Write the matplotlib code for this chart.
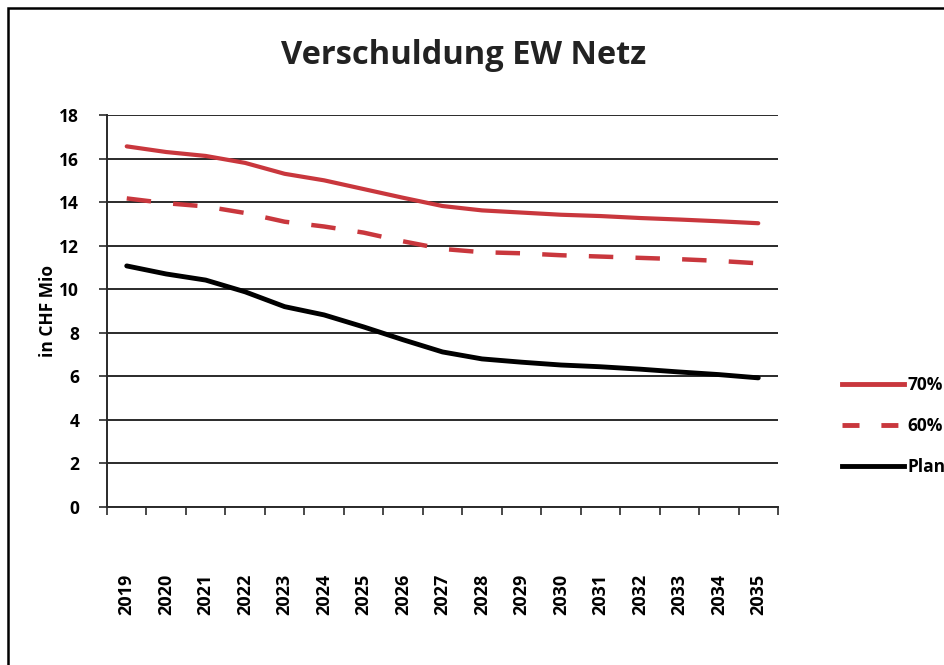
import numpy as np
import matplotlib
matplotlib.use('Agg')
import matplotlib.pyplot as plt
from matplotlib.lines import Line2D
from matplotlib.patches import Rectangle

plt.rcParams['font.family'] = ['Open Sans', 'DejaVu Sans']

years = [str(y) for y in range(2019, 2036)]
s70 = [16.56, 16.3, 16.12, 15.8, 15.3, 15.0, 14.6, 14.2, 13.82, 13.62, 13.52,
       13.42, 13.36, 13.27, 13.2, 13.12, 13.03]
s60 = [14.17, 13.95, 13.8, 13.5, 13.1, 12.88, 12.6, 12.2, 11.85, 11.7, 11.65,
       11.56, 11.5, 11.44, 11.38, 11.3, 11.19]
plan = [11.07, 10.7, 10.42, 9.88, 9.2, 8.82, 8.27, 7.68, 7.12, 6.8, 6.65,
        6.52, 6.44, 6.33, 6.2, 6.08, 5.93]
labels = ['70%', '60%', 'Plan']

red = '#c9373d'
fig = plt.figure(figsize=(9.44, 6.65), dpi=100)
ax = fig.add_axes([107/944, 1-507/665, (778-107)/944, (507-115)/665])

x = np.arange(len(years))
ax.plot(x, s70, color=red, lw=3.0, solid_capstyle='round', zorder=3)
ax.plot(x, s60, color=red, lw=3.2, dashes=(5.5, 5.0), zorder=3)
ax.plot(x, plan, color='black', lw=3.5, solid_capstyle='round', zorder=3)

ax.set_xlim(-0.5, len(years) - 0.5)
ax.set_ylim(0, 18)
ax.set_yticks(range(0, 19, 2))
ax.grid(axis='y', color='#2a2a2a', lw=1.4)
ax.set_axisbelow(True)
for s in ['top', 'right']:
    ax.spines[s].set_visible(False)
for s in ['left', 'bottom']:
    ax.spines[s].set_color('#2a2a2a')
    ax.spines[s].set_linewidth(1.4)

ax.set_xticks(np.arange(len(years) + 1) - 0.5)
ax.set_xticklabels([])
ax.set_xticks(x, minor=True)
ax.set_xticklabels(years, minor=True, rotation=90, fontsize=13, fontweight='bold')
ax.tick_params(axis='x', which='minor', length=0, pad=48)
ax.tick_params(axis='x', which='major', length=6, width=1.2, direction='out', color='#2a2a2a')
ax.tick_params(axis='y', length=6, width=1.2, color='#2a2a2a', labelsize=12.5, pad=14)
for t in ax.get_yticklabels():
    t.set_fontweight('bold')

ax.set_ylabel('in CHF Mio', fontsize=12.5, fontweight='bold', labelpad=2)
fig.text(464/944, 1-55/665, 'Verschuldung EW Netz', ha='center', va='center',
         fontsize=23.5, fontweight='bold', color='#222222')

handles = [Line2D([], [], color=red, lw=3.5),
           Line2D([], [], color=red, lw=3.5, dashes=(3.5, 4.5)),
           Line2D([], [], color='black', lw=3.5)]
leg = fig.legend(handles, labels, loc='upper left', bbox_to_anchor=(826/944, 1-360/665),
                 frameon=False, handlelength=3.6, handletextpad=0.2, labelspacing=1.35,
                 prop={'weight': 'bold', 'size': 12.5})

fig.patches.append(Rectangle((8/944, -0.1), 1.1, 1.1 - 8/665, transform=fig.transFigure,
                             fill=False, edgecolor='black', lw=1.8))

fig.savefig('out.png', dpi=100)
